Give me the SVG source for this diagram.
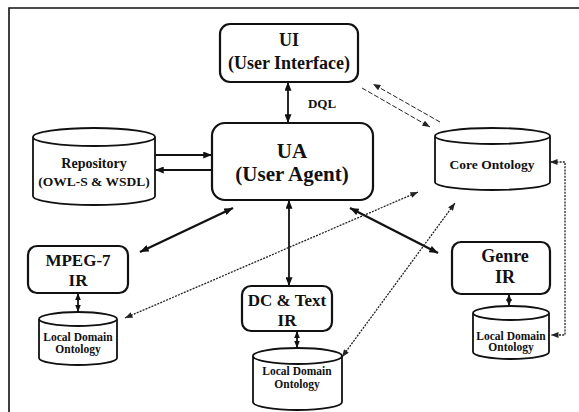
<svg xmlns="http://www.w3.org/2000/svg" width="579" height="412" viewBox="0 0 579 412" font-family="Liberation Serif, Times New Roman, serif">
<style>
text{font-weight:bold;fill:#111;text-anchor:middle}
.box{fill:#fff;stroke:#111;stroke-width:2.2}
.cyl{fill:#fff;stroke:#111;stroke-width:1.8}
.solid{fill:none;stroke:#111;stroke-width:1.8}
.thick{fill:none;stroke:#111;stroke-width:2.4}
.dash{fill:none;stroke:#222;stroke-width:1;stroke-dasharray:5 2}
.dot{fill:none;stroke:#222;stroke-width:1.3;stroke-dasharray:2 1.2}
.frame{fill:none;stroke:#111;stroke-width:1.6}
</style>
<defs>
<marker id="ah" viewBox="0 0 10 8" refX="10" refY="4" markerWidth="9" markerHeight="7" markerUnits="userSpaceOnUse" orient="auto-start-reverse"><path d="M0,0 L10,4 L0,8 Z" fill="#111"/></marker>
<marker id="ahs" viewBox="0 0 10 8" refX="10" refY="4" markerWidth="7" markerHeight="6" markerUnits="userSpaceOnUse" orient="auto-start-reverse"><path d="M0,0 L10,4 L0,8 Z" fill="#111"/></marker>
<marker id="ahd" viewBox="0 0 10 8" refX="10" refY="4" markerWidth="8" markerHeight="6" markerUnits="userSpaceOnUse" orient="auto-start-reverse"><path d="M0,0 L10,4 L0,8 Z" fill="#222"/></marker>
</defs>
<path class="frame" d="M9,412 L9,8 L579,8"/>
<g id="connectors">
<line class="solid" x1="288" y1="82" x2="288" y2="123" marker-start="url(#ah)" marker-end="url(#ah)"/>
<line class="solid" x1="155" y1="155" x2="212" y2="155" marker-end="url(#ah)"/>
<line class="solid" x1="212" y1="170" x2="155" y2="170" marker-end="url(#ah)"/>
<line class="thick" x1="233" y1="208" x2="140" y2="252" marker-start="url(#ah)" marker-end="url(#ah)"/>
<line class="solid" x1="289" y1="200" x2="289" y2="286" marker-start="url(#ah)" marker-end="url(#ah)"/>
<line class="thick" x1="350" y1="208" x2="438" y2="253" marker-start="url(#ah)" marker-end="url(#ah)"/>
<line class="solid" x1="78" y1="293" x2="78" y2="312" marker-start="url(#ahs)" marker-end="url(#ahs)"/>
<line class="solid" x1="297" y1="331" x2="297" y2="348" marker-start="url(#ahs)" marker-end="url(#ahs)"/>
<line class="solid" x1="509" y1="294" x2="509" y2="306" marker-start="url(#ahs)" marker-end="url(#ahs)"/>
<line class="dash" x1="440" y1="122" x2="373" y2="84" marker-end="url(#ahd)"/>
<line class="dash" x1="362" y1="88" x2="430" y2="127" marker-end="url(#ahd)"/>
<line class="dot" x1="125" y1="318" x2="418" y2="192" marker-start="url(#ahd)" marker-end="url(#ahd)"/>
<line class="dot" x1="342" y1="357" x2="455" y2="203" marker-start="url(#ahd)" marker-end="url(#ahd)"/>
<path class="dot" d="M550,162 L565,162 L565,335 L551,335" marker-start="url(#ahd)" marker-end="url(#ahd)"/>
<text x="322" y="108" font-size="13">DQL</text>
</g>
<g id="ui">
<rect class="box" x="220" y="24" width="138" height="58" rx="10"/>
<text x="289" y="46" font-size="18">UI</text>
<text x="289" y="69" font-size="18">(User Interface)</text>
</g>
<g id="ua">
<rect class="box" x="212" y="123" width="161" height="77" rx="13"/>
<text x="292" y="158" font-size="21">UA</text>
<text x="292" y="181" font-size="21">(User Agent)</text>
</g>
<g id="repository">
<path class="cyl" d="M33,137 A61,9 0 0 1 155,137 L155,196 A61,9 0 0 1 33,196 Z M33,137 A61,9 0 0 0 155,137"/>
<text x="94" y="168" font-size="14">Repository</text>
<text x="94" y="186" font-size="13.5">(OWL-S &amp; WSDL)</text>
</g>
<g id="core-ontology">
<path class="cyl" d="M435,136 A57.5,8 0 0 1 550,136 L550,182 A57.5,8 0 0 1 435,182 Z M435,136 A57.5,8 0 0 0 550,136"/>
<text x="492" y="169" font-size="13.5">Core Ontology</text>
</g>
<g id="mpeg7-ir">
<rect class="box" x="28" y="246" width="100" height="47" rx="9"/>
<text x="78" y="266" font-size="17">MPEG-7</text>
<text x="78" y="286" font-size="17">IR</text>
</g>
<g id="dc-text-ir">
<rect class="box" x="242" y="286" width="90" height="45" rx="9"/>
<text x="287" y="306" font-size="17">DC &amp; Text</text>
<text x="287" y="326" font-size="17">IR</text>
</g>
<g id="genre-ir">
<rect class="box" x="452" y="242" width="98" height="52" rx="9"/>
<text x="505" y="262" font-size="18">Genre</text>
<text x="505" y="283" font-size="18">IR</text>
</g>
<g id="ldo-left">
<path class="cyl" d="M39,319 A39,7 0 0 1 117,319 L117,358 A39,7 0 0 1 39,358 Z M39,319 A39,7 0 0 0 117,319"/>
<text x="78" y="341" font-size="11.5">Local Domain</text>
<text x="78" y="353" font-size="11.5">Ontology</text>
</g>
<g id="ldo-center">
<path class="cyl" d="M253,356 A44.5,8 0 0 1 342,356 L342,402 A44.5,8 0 0 1 253,402 Z M253,356 A44.5,8 0 0 0 342,356"/>
<text x="297" y="375" font-size="11.5">Local Domain</text>
<text x="297" y="388" font-size="11.5">Ontology</text>
</g>
<g id="ldo-right">
<path class="cyl" d="M473,313 A38,7 0 0 1 549,313 L549,352 A38,7 0 0 1 473,352 Z M473,313 A38,7 0 0 0 549,313"/>
<text x="511" y="340" font-size="11.5">Local Domain</text>
<text x="511" y="351" font-size="11.5">Ontology</text>
</g>
</svg>
